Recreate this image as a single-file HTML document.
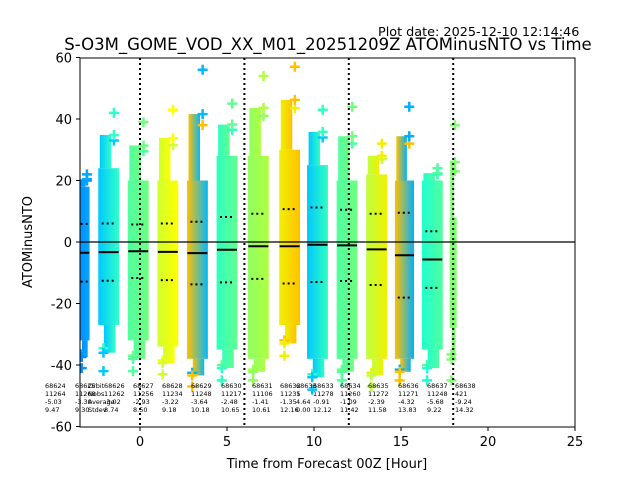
<!DOCTYPE html>
<html><head><meta charset="utf-8"><style>
body{margin:0;background:#fff}
svg{font-family:"DejaVu Sans","Liberation Sans",sans-serif}
</style></head><body>
<svg id="chart" width="640" height="480" viewBox="0 0 640 480">
<defs id="defs"><clipPath id="clip"><rect x="80" y="58" width="495" height="369"/></clipPath></defs>
<text x="378" y="36" font-size="12.8">Plot date: 2025-12-10 12:14:46</text>
<text x="328" y="50" font-size="16.5" text-anchor="middle">S-O3M_GOME_VOD_XX_M01_20251209Z ATOMinusNTO vs Time</text>
<g id="marks" clip-path="url(#clip)"></g>
<g id="axes"></g>
<g id="stats" font-size="6.5"></g>
<text x="327" y="468" font-size="13" text-anchor="middle">Time from Forecast 00Z [Hour]</text>
<text x="32" y="242" font-size="13" text-anchor="middle" transform="rotate(-90 32 242)">ATOMinusNTO</text>
</svg>
<script>
const centers=[-3.2,-1.8,-0.1,1.6,3.3,5.0,6.8,8.6,10.2,11.9,13.6,15.2,16.8,18.0];
const widths=[0.6,1.2,1.2,1.2,1.2,1.2,1.2,1.2,1.2,1.2,1.2,1.1,1.2,0.4];
const colorA=['#0a8cff','#00c8ff','#50ffa0','#d0ff30','#ffc000','#30ffc0','#90ff60','#f0f000','#00c8ff','#50ffa0','#c0ff40','#ffc000','#20ffd0','#80ff70'];
const colorB=['#00a8ff','#30ffc8','#70ff80','#ffff00','#00b8ff','#60ff90','#b0ff40','#ffc000','#30ffc0','#70ff80','#f0f000','#00b0ff','#50ffa0','#80ff70'];
const denseTop=[18,24,20,20,20,28,28,30,25,20,22,20,20,8];
const denseBot=[-32,-27,-32,-34,-38,-35,-38,-27,-38,-38,-38,-38,-35,-28];
const outMax=[22,42,39,43,56,45,54,57,43,44,32,44,24,38];
const outMin=[-41,-42,-42,-43,-47,-45,-45,-37,-48,-45,-47,-45,-45,-45];
const means=[-3.5,-3.3,-3.0,-3.2,-3.6,-2.5,-1.4,-1.4,-0.9,-1.1,-2.4,-4.3,-5.7,null];
const stds=[9.4,9.3,8.7,9.2,10.2,10.65,10.6,12.1,12.1,11.6,11.6,13.8,9.2,null];
const xTicks=[0,5,10,15,20,25];
const yTicks=[60,40,20,0,-20,-40,-60];
const vlines=[0,6,12,18];
const orbits=['68624','68625','68626','68627','68628','68629','68630','68631','68632','68633','68633','68634','68635','68636','68637','68638'];
const nobs=['11264','11268','11262','11256','11234','11248','11217','11106','11235','1','11278','11260','11272','11271','11248','421'];
const avgs=['-5.03','-3.30','-3.02','-2.93','-3.22','-3.64','-2.48','-1.41','-1.35','4.64','-0.91','-1.09','-2.39','-4.32','-5.68','-9.24'];
const stdevs=['9.47','9.30','8.74','8.50','9.18','10.18','10.65','10.61','12.16','0.00','12.12','11.42','11.58','13.83','9.22','14.32'];
const statX=[45,75,104,133,162,191,221,252,280,296,313,340,368,398,427,455];

const NS='http://www.w3.org/2000/svg';
const X=v=>140+v*17.4, Y=v=>242-v*3.075;
function mk(tag,attrs,parent){const e=document.createElementNS(NS,tag);for(const k in attrs)e.setAttribute(k,attrs[k]);parent.appendChild(e);return e;}
const marks=document.getElementById('marks'),axes=document.getElementById('axes'),defs=document.getElementById('defs'),stats=document.getElementById('stats');
centers.forEach((c,i)=>{
  const g=mk('linearGradient',{id:'g'+i,x1:0,x2:1,y1:0,y2:0},defs);
  mk('stop',{offset:'0','stop-color':colorA[i]},g);mk('stop',{offset:'1','stop-color':colorB[i]},g);
  const x0=X(c-widths[i]/2),w=widths[i]*17.4;
  const r=mk('rect',{x:x0,y:Y(denseTop[i]),width:w,height:Y(denseBot[i])-Y(denseTop[i]),fill:'url(#g'+i+')'},marks);
  
  
  // sparse tiers
  const upT=(denseTop[i]*0.4+outMax[i]*0.6), loB=(denseBot[i]*0.4+outMin[i]*0.6);
  [[upT,denseTop[i],0.15],[denseBot[i],loB,0.55]].forEach(([a,b,off])=>{
    const s=mk('rect',{x:X(c-widths[i]/2+widths[i]*off*0.5),y:Y(a),width:w*0.55,height:Y(b)-Y(a),fill:'url(#g'+i+')'},marks);
    
    
  });
  [[outMax[i],colorB[i]],[outMin[i],colorA[i]],[(outMax[i]+denseTop[i])/2,colorA[i]],[(outMin[i]+denseBot[i])/2,colorB[i]],[upT,colorB[i]],[loB,colorA[i]]].forEach(([v,col],k)=>{
    const px=X(c+(k%2?-0.25:0.25)*widths[i]),py=Y(v);
    const p=mk('path',{d:`M${px-5},${py}H${px+5}M${px},${py-5}V${py+5}`,stroke:col,'stroke-width':2.5,fill:'none'},marks);
    
    
  });
  if(means[i]!==null){
    const hw=Math.min(w,20)/2,cx=X(c);
    const m=mk('line',{x1:cx-hw,x2:cx+hw,y1:Y(means[i]),y2:Y(means[i]),stroke:'#000','stroke-width':2},marks);
    
    
    [means[i]+stds[i],means[i]-stds[i]].forEach(v=>{
      const s=mk('line',{x1:cx-hw*0.7,x2:cx+hw*0.7,y1:Y(v),y2:Y(v),stroke:'#000','stroke-width':2,'stroke-dasharray':'2,3'},marks);
      
      
    });
  }
});
vlines.forEach(v=>{const l=mk('line',{x1:X(v),x2:X(v),y1:58,y2:427,stroke:'#000','stroke-width':2,'stroke-dasharray':'2,3'},marks);
  
  });
const z=mk('line',{x1:80,x2:575,y1:Y(0),y2:Y(0),stroke:'#000','stroke-width':1.2},marks);


const fr=mk('rect',{x:80,y:58,width:495,height:369,fill:'none',stroke:'#000','stroke-width':1},axes);


xTicks.forEach(v=>{mk('line',{x1:X(v),x2:X(v),y1:427,y2:431,stroke:'#000'},axes);
  const t=mk('text',{x:X(v),y:446,'font-size':13,'text-anchor':'middle'},axes);t.textContent=v;
  
  });
yTicks.forEach(v=>{mk('line',{x1:76,x2:80,y1:Y(v),y2:Y(v),stroke:'#000'},axes);
  const t=mk('text',{x:72,y:Y(v)+5,'font-size':13,'text-anchor':'end'},axes);t.textContent=v;
  
  });
orbits.forEach((o,i)=>{[o,nobs[i],avgs[i],stdevs[i]].forEach((s,r)=>{
  const t=mk('text',{x:statX[i],y:388+r*8},stats);t.textContent=s;
  
  });});
['Orbit','Nobs','Average','Stdev'].forEach((s,r)=>{const t=mk('text',{x:88,y:388+r*8},stats);t.textContent=s;
  
  });
</script>
</body></html>
